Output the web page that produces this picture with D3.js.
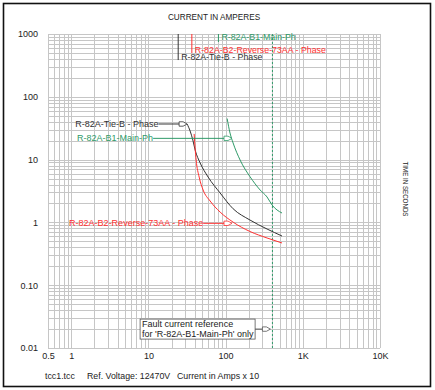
<!DOCTYPE html>
<html>
<head>
<meta charset="utf-8">
<script src="https://cdn.jsdelivr.net/npm/d3@7"></script>
<style>
  body { margin: 0; background: #fff; }
  svg { display: block; font-family: 'Liberation Sans', Arial, sans-serif; }
</style>
</head>
<body>
<div id="graf"></div>
<script>
// I. Datos
ejeXValores = [0.5, 1, 10, 100, 1000, 10000]
ejeXEtiquetas = ['0.5', '1', '10', '100', '1K', '10K']
ejeYValores = [0.01, 0.1, 1, 10, 100, 1000]
ejeYEtiquetas = ['0.01', '0.10', '1', '10', '100', '1000']

// curvas (corriente en A x 10, tiempo en s)
tieCorriente = [31.7, 34.7, 37.6, 40.3, 46.8, 59.3, 84.9, 125, 207, 344, 538]
tieTiempo    = [36.9, 28.5, 20.5, 14.2, 8.83, 5.28, 2.94, 1.65, 1.09, 0.785, 0.607]

reversaCorriente = [39.1, 40.2, 41.5, 45.4, 51.1, 63, 84.9, 125, 207, 344, 538]
reversaTiempo    = [25.6, 15.5, 9.85, 5.28, 3.28, 2.19, 1.46, 1.01, 0.716, 0.565, 0.47]

mainCorriente = [104.6, 114, 125, 154, 207, 280, 344, 400, 538]
mainTiempo    = [45.1, 26.5, 18.4, 9.85, 5.34, 3.28, 2.54, 1.89, 1.41]

corrienteFalla = 404

nombres = ['R-82A-Tie-B - Phase', 'R-82A-B2-Reverse-73AA - Phase', 'R-82A-B1-Main-Ph']
colores = ['#333333', '#ff3030', '#2f9a68']
// etiqueta superior: corriente de la marca y tiempo donde termina
marcaCorriente = [24.3, 36.5, 80.7]
marcaTiempo = [385, 498, 746]
// etiqueta lateral: fin del texto, tiempo y punta de flecha
flechaTextoCorriente = [13.5, 51.2, 11.5]
flechaTiempo = [36.9, 0.967, 21.8]
flechaCorriente = [31.7, 121, 121]

// II. Configuración
ancho_total = 435
alto_total = 390

svg = d3.select('#graf').append('svg')
  .attr('width', ancho_total)
  .attr('height', alto_total)

x = d3.scaleLog().domain([0.5, 10000]).range([48, 380])
y = d3.scaleLog().domain([0.01, 1000]).range([348, 34])

// marco
svg.append('rect')
  .attr('x', 3.5).attr('y', 3.5)
  .attr('width', 427).attr('height', 383)
  .attr('fill', 'none')
  .attr('stroke', '#111')
  .attr('stroke-width', 1.6)

// GRID
grid = svg.append('g').attr('stroke', '#c6c6c6').attr('stroke-width', 1)

grid.selectAll('.gx')
  .data(x.ticks())
  .enter().append('line')
    .attr('x1', d => Math.round(x(d)) + 0.5)
    .attr('x2', d => Math.round(x(d)) + 0.5)
    .attr('y1', y(1000))
    .attr('y2', y(0.01))

grid.selectAll('.gy')
  .data(y.ticks())
  .enter().append('line')
    .attr('y1', d => Math.round(y(d)) + 0.5)
    .attr('y2', d => Math.round(y(d)) + 0.5)
    .attr('x1', x(0.5))
    .attr('x2', x(10000))

// EJES
ejeX = d3.axisBottom(x)
  .tickValues(ejeXValores)
  .tickFormat((d, i) => ejeXEtiquetas[i])
  .tickSize(0)
  .tickPadding(5)

gx = svg.append('g')
  .attr('transform', 'translate(0,' + y(0.01) + ')')
  .call(ejeX)
gx.select('.domain').remove()
gx.selectAll('text').attr('font-size', '9px').attr('fill', '#222').style('font-family', 'inherit')

ejeY = d3.axisLeft(y)
  .tickValues(ejeYValores)
  .tickFormat((d, i) => ejeYEtiquetas[i])
  .tickSize(0)
  .tickPadding(10)

gy = svg.append('g')
  .attr('transform', 'translate(' + x(0.5) + ',0)')
  .call(ejeY)
gy.select('.domain').remove()
gy.selectAll('text').attr('font-size', '9px').attr('fill', '#222').style('font-family', 'inherit')

// TITULOS
svg.append('text')
  .attr('x', 214).attr('y', 20)
  .attr('text-anchor', 'middle')
  .attr('font-size', '8.2px')
  .attr('fill', '#222')
  .text('CURRENT IN AMPERES')

svg.append('text')
  .attr('transform', 'translate(403,189) rotate(90)')
  .attr('text-anchor', 'middle')
  .attr('font-size', '7px')
  .attr('fill', '#222')
  .attr('textLength', 55)
  .attr('lengthAdjust', 'spacingAndGlyphs')
  .text('TIME IN SECONDS')

pie = [['tcc1.tcc', 45], ['Ref. Voltage: 12470V', 87], ['Current in Amps x 10', 177]]
svg.selectAll('.pie')
  .data(pie)
  .enter().append('text')
    .attr('x', d => d[1]).attr('y', 379)
    .attr('font-size', '8.8px')
    .attr('fill', '#222')
    .text(d => d[0])

// linea de falla
svg.append('line')
  .attr('x1', x(corrienteFalla)).attr('x2', x(corrienteFalla))
  .attr('y1', y(1000)).attr('y2', y(0.01))
  .attr('stroke', colores[2])
  .attr('stroke-width', 1)
  .attr('stroke-dasharray', '2,2')

// CURVAS
series = [
  d3.zip(tieCorriente, tieTiempo),
  d3.zip(reversaCorriente, reversaTiempo),
  d3.zip(mainCorriente, mainTiempo)
]

linea = d3.line()
  .x(d => x(d[0]))
  .y(d => y(d[1]))
  .curve(d3.curveMonotoneX)

svg.selectAll('.curva')
  .data(series)
  .enter().append('path')
    .attr('d', linea)
    .attr('fill', 'none')
    .attr('stroke', (d, i) => colores[i])
    .attr('stroke-width', 1)

function flecha(g, xp, yp, color) {
  g.append('path')
    .attr('d', `M${xp},${yp} L${xp - 4},${yp - 2.2} L${xp - 8},${yp - 2.2} L${xp - 8},${yp + 2.2} L${xp - 4},${yp + 2.2} Z`)
    .attr('fill', '#fff')
    .attr('stroke', color)
    .attr('stroke-width', 0.8)
}

// ETIQUETAS SUPERIORES
nombres.forEach((n, i) => {
  svg.append('line')
    .attr('x1', x(marcaCorriente[i])).attr('x2', x(marcaCorriente[i]))
    .attr('y1', y(1000)).attr('y2', y(marcaTiempo[i]))
    .attr('stroke', colores[i])
    .attr('stroke-width', 1)
  svg.append('text')
    .attr('x', x(marcaCorriente[i]) + 3)
    .attr('y', y(marcaTiempo[i]) - (i == 2 ? 1.5 : 0.5))
    .attr('font-size', '8.8px')
    .attr('fill', colores[i])
    .text(n)
})

// ETIQUETAS CON FLECHA
nombres.forEach((n, i) => {
  yy = y(flechaTiempo[i])
  svg.append('text')
    .attr('x', x(flechaTextoCorriente[i]))
    .attr('y', yy)
    .attr('dy', '0.35em')
    .attr('text-anchor', 'end')
    .attr('font-size', '9px')
    .attr('fill', colores[i])
    .text(n)
  svg.append('line')
    .attr('x1', x(flechaTextoCorriente[i])).attr('x2', x(flechaCorriente[i]) - 8)
    .attr('y1', yy).attr('y2', yy)
    .attr('stroke', colores[i])
  flecha(svg, x(flechaCorriente[i]), yy, colores[i])
})

// CAJA DE FALLA
cajaIzq = x(7.8)
cajaDer = x(241)
cajaY = y(0.02)
svg.append('rect')
  .attr('x', cajaIzq).attr('y', cajaY - 10)
  .attr('width', cajaDer - cajaIzq).attr('height', 20)
  .attr('fill', '#fff')
  .attr('stroke', '#555')
  .attr('stroke-width', 0.8)
svg.append('text')
  .attr('x', cajaIzq + 2).attr('y', cajaY - 2)
  .attr('font-size', '9px').attr('fill', '#222')
  .text('Fault current reference')
svg.append('text')
  .attr('x', cajaIzq + 2).attr('y', cajaY + 7.5)
  .attr('font-size', '9px').attr('fill', '#222')
  .text("for 'R-82A-B1-Main-Ph' only")
svg.append('line')
  .attr('x1', cajaDer).attr('x2', x(corrienteFalla) - 10)
  .attr('y1', cajaY).attr('y2', cajaY)
  .attr('stroke', '#555')
flecha(svg, x(corrienteFalla) - 2, cajaY, '#555')
</script>
</body>
</html>
